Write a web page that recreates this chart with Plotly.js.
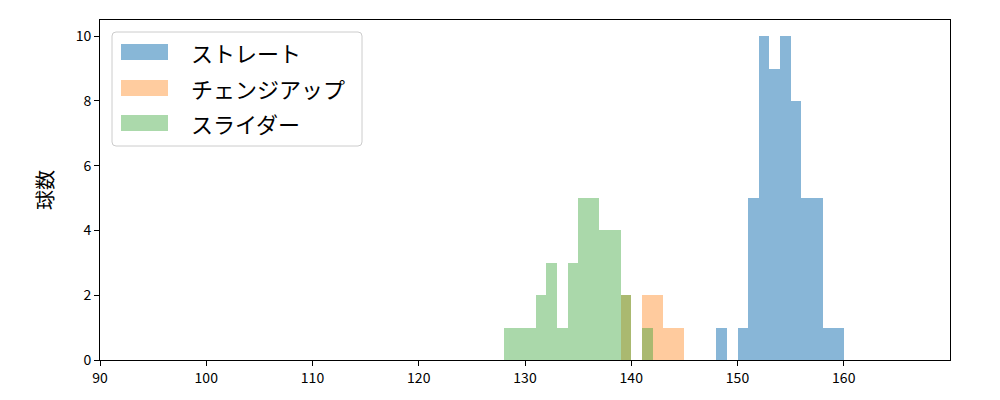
<!DOCTYPE html>
<html>
<head>
<meta charset="utf-8">
<script src="https://cdn.plot.ly/plotly-3.0.1.min.js"></script>
<style>
  body { margin: 0; background: #fff; }
  #plot { width: 1000px; height: 400px; }
</style>
</head>
<body>
<div id="plot"></div>
<script>
// bin left edges (km/h) and counts per pitch type
var seriesNames = ["ストレート", "チェンジアップ", "スライダー"];

var straightBins = [148, 149, 150, 151, 152, 153, 154, 155, 156, 157, 158, 159];
var straightCounts = [1, 0, 1, 5, 10, 9, 10, 8, 5, 5, 1, 1];

var changeupBins = [139, 140, 141, 142, 143, 144];
var changeupCounts = [2, 0, 2, 2, 1, 1];

var sliderBins = [128, 129, 130, 131, 132, 133, 134, 135, 136, 137, 138, 139, 140, 141];
var sliderCounts = [1, 1, 1, 2, 3, 1, 3, 5, 5, 4, 4, 2, 0, 1];

var xTicks = [90, 100, 110, 120, 130, 140, 150, 160];
var yTicks = [0, 2, 4, 6, 8, 10];

var colors = ["#1f77b4", "#ff7f0e", "#2ca02c"];
var alphas = [0.53, 0.4, 0.4];
var font = "Noto Sans CJK JP, DejaVu Sans, sans-serif";

function barTrace(bins, counts, i) {
  return {
    type: "bar",
    x: bins,
    y: counts,
    width: 1,
    offset: 0,
    name: seriesNames[i],
    marker: { color: colors[i], line: { width: 0 } },
    opacity: alphas[i],
    hoverinfo: "x+y+name"
  };
}

var data = [
  barTrace(straightBins, straightCounts, 0),
  barTrace(changeupBins, changeupCounts, 1),
  barTrace(sliderBins, sliderCounts, 2)
];

// plot area in pixels
var L = 100, R = 950, T = 20, B = 360;
function px(x) { return (x - L) / (R - L); }
function py(y) { return (B - y) / (B - T); }

// legend drawn by hand (wide patches like the original)
var shapes = [];
var annotations = [];
var bx0 = 112, bx1 = 362, by0 = 32, by1 = 146, r = 4;
var rx = r / (R - L), ry = r / (B - T);
var X0 = px(bx0), X1 = px(bx1), Y0 = py(by0), Y1 = py(by1);
shapes.push({
  type: "path", xref: "paper", yref: "paper",
  path: "M" + (X0 + rx) + "," + Y0 +
        " L" + (X1 - rx) + "," + Y0 +
        " Q" + X1 + "," + Y0 + " " + X1 + "," + (Y0 - ry) +
        " L" + X1 + "," + (Y1 + ry) +
        " Q" + X1 + "," + Y1 + " " + (X1 - rx) + "," + Y1 +
        " L" + (X0 + rx) + "," + Y1 +
        " Q" + X0 + "," + Y1 + " " + X0 + "," + (Y1 + ry) +
        " L" + X0 + "," + (Y0 - ry) +
        " Q" + X0 + "," + Y0 + " " + (X0 + rx) + "," + Y0 + " Z",
  fillcolor: "rgba(255,255,255,0.8)",
  line: { color: "#cccccc", width: 1 }
});
var rowY = [52, 88, 123];
for (var i = 0; i < 3; i++) {
  shapes.push({
    type: "rect", xref: "paper", yref: "paper",
    x0: px(121), x1: px(168), y0: py(rowY[i] - 8), y1: py(rowY[i] + 8),
    fillcolor: colors[i], opacity: alphas[i], line: { width: 0 }
  });
  annotations.push({
    xref: "paper", yref: "paper",
    x: px(189), y: py(rowY[i]),
    xanchor: "left", yanchor: "middle",
    text: seriesNames[i], showarrow: false,
    font: { family: font, size: 22, color: "#000" }
  });
}

var layout = {
  width: 1000,
  height: 400,
  margin: { l: L, r: 1000 - R, t: T, b: 400 - B },
  paper_bgcolor: "#ffffff",
  plot_bgcolor: "#ffffff",
  barmode: "overlay",
  bargap: 0,
  showlegend: false,
  font: { family: font, size: 14, color: "#000" },
  xaxis: {
    range: [90, 170],
    tickvals: xTicks,
    ticks: "outside", ticklen: 5, tickwidth: 1, tickcolor: "#000",
    showline: true, mirror: true, linecolor: "#000", linewidth: 1,
    showgrid: false, zeroline: false,
    tickfont: { family: font, size: 14 }
  },
  yaxis: {
    range: [0, 10.5],
    tickvals: yTicks,
    ticks: "outside", ticklen: 5, tickwidth: 1, tickcolor: "#000",
    showline: true, mirror: true, linecolor: "#000", linewidth: 1,
    showgrid: false, zeroline: false,
    tickfont: { family: font, size: 14 },
    title: { text: "球数", font: { family: font, size: 20 }, standoff: 16 }
  },
  shapes: shapes,
  annotations: annotations
};

Plotly.newPlot("plot", data, layout, { displayModeBar: false, staticPlot: true });
</script>
</body>
</html>
